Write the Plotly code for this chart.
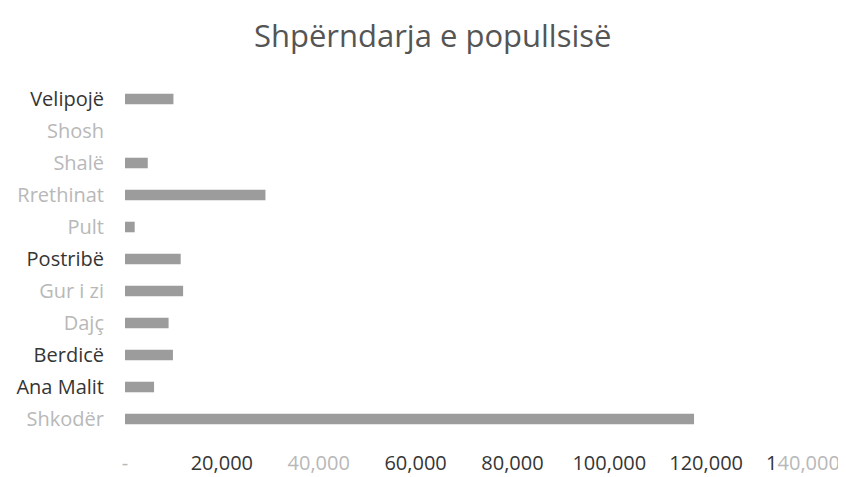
import plotly.graph_objects as go

categories = ["Velipojë", "Shosh", "Shalë", "Rrethinat", "Pult", "Postribë",
              "Gur i zi", "Dajç", "Berdicë", "Ana Malit", "Shkodër"]
population = [10000, 0, 4700, 29000, 2000, 11500, 12000, 9000, 9900, 6000, 117500]
# label shade as it appears in the scanned reference (True = dark print)
label_dark = [True, False, False, False, False, True, False, False, True, True, False]

x_tick_vals = [0, 20000, 40000, 60000, 80000, 100000, 120000, 140000]
x_tick_text = ["-", "20,000", "40,000", "60,000", "80,000", "100,000", "120,000", "140,000"]
x_tick_dark = [False, True, False, True, True, True, True, None]

DARK = "#353535"
LIGHT = "#b8b8b8"

def shade(txt, dark):
    return f'<span style="color:{DARK if dark else LIGHT}">{txt}</span>'

y_text = [shade(c, d) for c, d in zip(categories, label_dark)]
x_text = []
for t, d in zip(x_tick_text, x_tick_dark):
    if d is None:
        x_text.append(shade(t[0], True) + shade(t[1:], False))
    else:
        x_text.append(shade(t, d))

fig = go.Figure(go.Bar(
    y=categories, x=population, orientation="h",
    marker=dict(color="#9c9c9c", line=dict(width=0)),
    width=0.33,
))

fig.update_layout(
    width=846, height=477,
    paper_bgcolor="white", plot_bgcolor="white",
    margin=dict(l=117, r=51, t=75, b=50),
    title=dict(text="Shpërndarja e popullsisë",
               x=0.502, xanchor="center", y=0.94, yanchor="middle",
               font=dict(family="Open Sans", size=31, color="#555555")),
    font=dict(family="Open Sans", size=20, color=DARK),
    showlegend=False,
)
fig.update_xaxes(range=[0, 140000], tickvals=x_tick_vals, ticktext=x_text,
                 showgrid=False, zeroline=False, showline=False, ticks="",
                 tickfont=dict(size=20), ticklabelstandoff=14, automargin=False)
fig.update_yaxes(categoryorder="array", categoryarray=categories,
                 tickvals=categories, ticktext=y_text, autorange="reversed",
                 showgrid=False, zeroline=False, showline=False, ticks="",
                 tickfont=dict(size=20), ticklabelstandoff=20, automargin=False)

fig.write_html("out.html")
